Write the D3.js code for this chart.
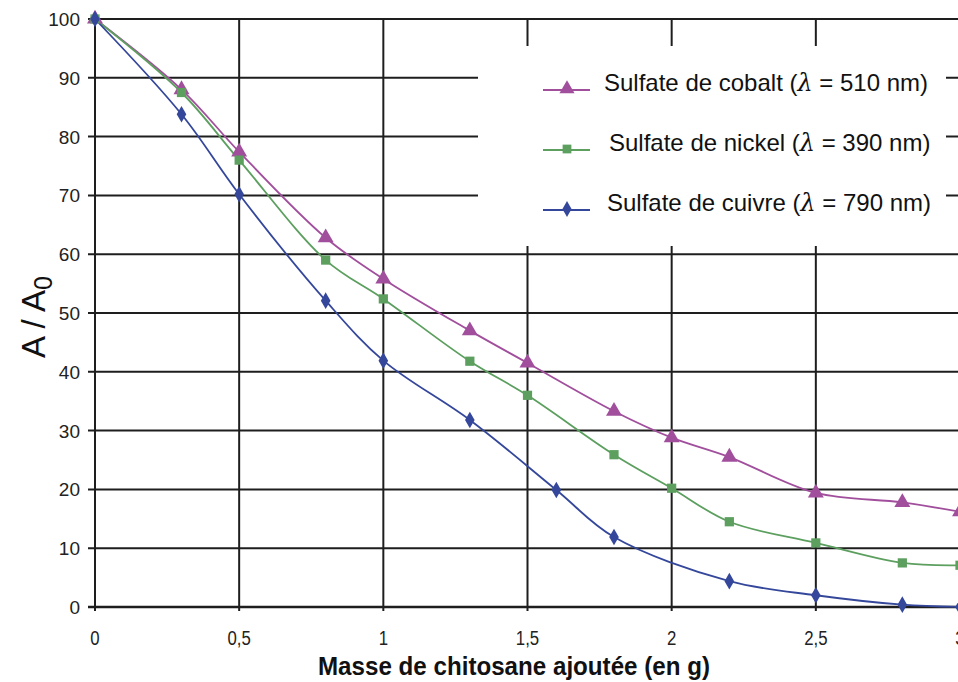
<!doctype html>
<html>
<head>
    <meta charset="UTF-8">
    <title>A / A0</title>
    <script src="https://d3js.org/d3.v7.min.js"></script>
    <style>
        body { margin: 0; background: #fff; }
        svg { display: block; }
    </style>
</head>
<body>
    <svg width="958" height="682"></svg>

    <script>
        // données
        var xCobalt = [0, 0.3, 0.5, 0.8, 1, 1.3, 1.5, 1.8, 2, 2.2, 2.5, 2.8, 3];
        var yCobalt = [100, 88, 77.4, 62.8, 55.8, 47, 41.5, 33.3, 28.8, 25.5, 19.4, 17.8, 16.2];

        var xNickel = [0, 0.3, 0.5, 0.8, 1, 1.3, 1.5, 1.8, 2, 2.2, 2.5, 2.8, 3];
        var yNickel = [100, 87.5, 76, 59, 52.4, 41.8, 36, 25.9, 20.2, 14.5, 10.9, 7.5, 7.1];

        var xCuivre = [0, 0.3, 0.5, 0.8, 1, 1.3, 1.6, 1.8, 2.2, 2.5, 2.8, 3];
        var yCuivre = [100, 83.8, 70.2, 52.1, 41.9, 31.8, 19.9, 11.9, 4.4, 2, 0.4, 0];

        var xTicks = [0, 0.5, 1, 1.5, 2, 2.5, 3];
        var xTickLabels = ['0', '0,5', '1', '1,5', '2', '2,5', '3'];
        var yTicks = [0, 10, 20, 30, 40, 50, 60, 70, 80, 90, 100];

        var seriesNames = ['Sulfate de cobalt', 'Sulfate de nickel', 'Sulfate de cuivre'];
        var seriesLambda = ['510', '390', '790'];

        var colors = ['#a14f9d', '#5c9f5f', '#34479b'];
        var symbols = [d3.symbolTriangle, d3.symbolSquare, d3.symbolDiamond];
        var symSizes = [110, 85, 80];

        var svg = d3.select('svg');
        var x = d3.scaleLinear().domain([0, 3]).range([95, 960]);
        var y = d3.scaleLinear().domain([0, 100]).range([607, 19]);

        var series = [
            d3.zip(xCobalt, yCobalt),
            d3.zip(xNickel, yNickel),
            d3.zip(xCuivre, yCuivre)
        ];

        // grille
        svg.append('g').selectAll('line.h')
            .data(yTicks)
            .enter().append('line')
            .attr('x1', 88).attr('x2', x(3))
            .attr('y1', function (d) { return y(d); })
            .attr('y2', function (d) { return y(d); })
            .attr('stroke', '#1e1e1e')
            .attr('stroke-width', function (d) { return d == 0 ? 2.6 : 2; });

        svg.append('g').selectAll('line.v')
            .data(xTicks)
            .enter().append('line')
            .attr('x1', function (d) { return x(d); })
            .attr('x2', function (d) { return x(d); })
            .attr('y1', y(100)).attr('y2', y(0) + 4)
            .attr('stroke', '#1e1e1e')
            .attr('stroke-width', 2);

        // étiquettes des axes
        svg.append('g').selectAll('text')
            .data(yTicks)
            .enter().append('text')
            .attr('x', 80)
            .attr('y', function (d) { return y(d) + 7; })
            .attr('text-anchor', 'end')
            .attr('font-family', 'Liberation Sans, Arial, sans-serif')
            .attr('font-size', 19)
            .attr('fill', '#222')
            .text(function (d) { return d; });

        svg.append('g').selectAll('text')
            .data(xTicks)
            .enter().append('text')
            .attr('transform', function (d) { return 'translate(' + x(d) + ',645) scale(0.8,1)'; })
            .attr('text-anchor', 'middle')
            .attr('font-family', 'Liberation Sans, Arial, sans-serif')
            .attr('font-size', 21)
            .attr('fill', '#222')
            .text(function (d, i) { return xTickLabels[i]; });

        svg.append('text')
            .attr('x', 318).attr('y', 675)
            .attr('textLength', 392)
            .attr('lengthAdjust', 'spacingAndGlyphs')
            .attr('font-family', 'Liberation Sans, Arial, sans-serif')
            .attr('font-weight', 'bold')
            .attr('font-size', 25)
            .attr('fill', '#111')
            .text('Masse de chitosane ajoutée (en g)');

        var yl = svg.append('text')
            .attr('transform', 'translate(45,317) rotate(-90)')
            .attr('text-anchor', 'middle')
            .attr('font-family', 'Liberation Sans, Arial, sans-serif')
            .attr('font-size', 33)
            .attr('fill', '#111');
        yl.append('tspan').text('A / A');
        yl.append('tspan').attr('dy', 7).attr('font-size', 25).text('0');

        // courbes
        var line = d3.line()
            .x(function (d) { return x(d[0]); })
            .y(function (d) { return y(d[1]); })
            .curve(d3.curveCatmullRom.alpha(0.5));

        series.forEach(function (data, i) {
            svg.append('path')
                .datum(data)
                .attr('d', line)
                .attr('fill', 'none')
                .attr('stroke', colors[i])
                .attr('stroke-width', 1.8);
        });

        series.forEach(function (data, i) {
            svg.append('g').selectAll('path')
                .data(data)
                .enter().append('path')
                .attr('transform', function (d) { return 'translate(' + x(d[0]) + ',' + y(d[1]) + ')'; })
                .attr('d', d3.symbol().type(symbols[i]).size(symSizes[i]))
                .attr('fill', colors[i]);
        });

        // légende
        svg.append('rect')
            .attr('x', 478).attr('y', 46)
            .attr('width', 468).attr('height', 200)
            .attr('fill', '#fff');

        var legY = [83, 143, 203];
        var legTx = [604, 609, 607];

        seriesNames.forEach(function (name, i) {
            var g = svg.append('g');
            g.append('line')
                .attr('x1', 543).attr('x2', 590)
                .attr('y1', legY[i] + 7).attr('y2', legY[i] + 7)
                .attr('stroke', colors[i]).attr('stroke-width', 1.8);
            g.append('path')
                .attr('transform', 'translate(567,' + (legY[i] + 6) + ')')
                .attr('d', d3.symbol().type(symbols[i]).size(symSizes[i] * 0.9))
                .attr('fill', colors[i]);
            var t = g.append('text')
                .attr('x', legTx[i]).attr('y', legY[i] + 8)
                .attr('font-family', 'Liberation Sans, Arial, sans-serif')
                .attr('font-size', 24)
                .attr('fill', '#111');
            t.append('tspan').text(name + ' (');
            t.append('tspan').attr('font-style', 'italic').attr('font-family', 'DejaVu Serif, serif').text('λ');
            t.append('tspan').text(' = ' + seriesLambda[i] + ' nm)');
        });
    </script>
</body>
</html>
